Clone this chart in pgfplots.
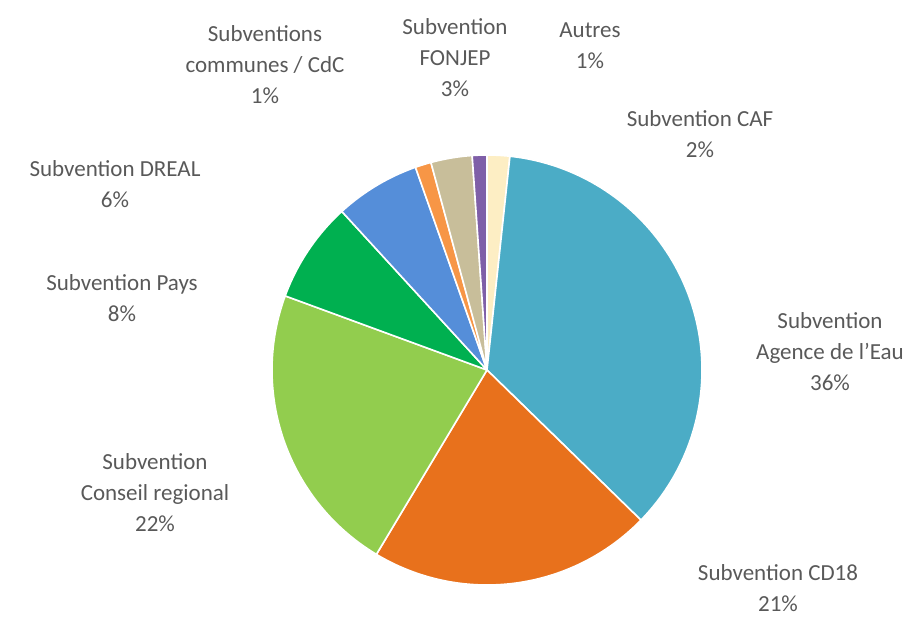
\documentclass[border=0pt]{standalone}
\usepackage{pgfplots}
\usepackage{pgfplotstable}
\pgfplotsset{compat=1.18}
\usepackage{fontspec}
\setmainfont{Carlito}
\definecolor{sl0}{HTML}{FDEEC4}
\definecolor{sl1}{HTML}{4BACC6}
\definecolor{sl2}{HTML}{E8711C}
\definecolor{sl3}{HTML}{92CD4E}
\definecolor{sl4}{HTML}{00B050}
\definecolor{sl5}{HTML}{558ED9}
\definecolor{sl6}{HTML}{F79646}
\definecolor{sl7}{HTML}{C8BE9A}
\definecolor{sl8}{HTML}{7F5FA8}
\definecolor{txt}{HTML}{595959}
\tikzset{lbl/.style={align=center,text=txt,font=\fontsize{23}{31}\selectfont,inner sep=0pt}}
% slices clockwise from 12 o'clock (percent)
\pgfplotstableread{
val
1.7
35.6
21.3
22.0
7.6
6.4
1.2
3.1
1.1
}\piedata
\xdef\cumsum{0}
\foreach \i in {0,...,8}{%
  \pgfplotstablegetelem{\i}{val}\of\piedata
  \let\v\pgfplotsretval
  \pgfmathsetmacro\a{90-3.6*(\cumsum+\v)}%
  \pgfmathsetmacro\b{90-3.6*\cumsum}%
  \expandafter\xdef\csname sa\i\endcsname{\a}%
  \expandafter\xdef\csname sb\i\endcsname{\b}%
  \pgfmathsetmacro\c{\cumsum+\v}%
  \xdef\cumsum{\c}%
}
\begin{document}
\begin{tikzpicture}
\begin{axis}[x=1pt,y=1pt,xmin=0,xmax=923,ymin=0,ymax=619,hide axis,clip=false]
\addplot[draw=none] coordinates {(0,0) (923,619)};
\pgfplotsinvokeforeach{0,...,8}{%
  \addplot[fill=sl#1,draw=white,line width=1.6pt,line join=round,
    domain=\csname sa#1\endcsname:\csname sb#1\endcsname,samples=90]
    ({487+215*cos(x)},{249+215*sin(x)}) -- (axis cs:487,249) -- cycle;
}
\node[lbl] at (axis cs:265,554) {Subventions\\communes / CdC\\1\%};
\node[lbl] at (axis cs:455,561) {Subvention\\FONJEP\\3\%};
\node[lbl] at (axis cs:590,573) {Autres\\1\%};
\node[lbl] at (axis cs:700,485) {Subvention CAF\\2\%};
\node[lbl] at (axis cs:830,267) {Subvention\\Agence de l’Eau\\36\%};
\node[lbl] at (axis cs:778,31) {Subvention CD18\\21\%};
\node[lbl] at (axis cs:155,126) {Subvention\\Conseil regional\\22\%};
\node[lbl] at (axis cs:122,321) {Subvention Pays\\8\%};
\node[lbl] at (axis cs:115,435) {Subvention DREAL\\6\%};
\end{axis}
\end{tikzpicture}
\end{document}
